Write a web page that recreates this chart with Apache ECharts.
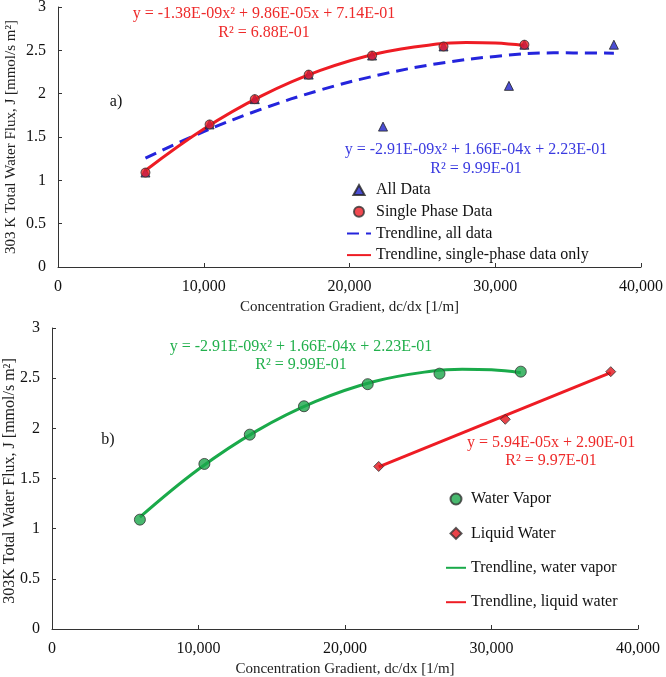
<!DOCTYPE html>
<html>
<head>
<meta charset="utf-8">
<script src="https://cdn.jsdelivr.net/npm/echarts@6/dist/echarts.min.js"></script>
<style>
  html, body { margin: 0; padding: 0; background: #fff; }
  #chart { width: 666px; height: 677px; }
</style>
</head>
<body>
<div id="chart"></div>
<script>
const vaporX = [6000, 10400, 13500, 17200, 21550, 26450, 32000]
const vaporY = [1.09, 1.645, 1.937, 2.22, 2.44, 2.545, 2.565]
const liquidX = [22300, 30940, 38140]
const liquidY = [1.62, 2.09, 2.565]

// trendline points
const trendAllX = [6000, 10000, 14000, 18000, 22000, 26000, 30000, 34000, 38140]
const trendAllY = [1.256, 1.562, 1.824, 2.042, 2.215, 2.345, 2.43, 2.471, 2.467]
const trendVaporX = [6000, 10000, 14000, 18000, 22000, 26000, 28000, 30000, 32000]
const trendVaporY = [1.114, 1.592, 1.977, 2.268, 2.467, 2.572, 2.59, 2.584, 2.555]
const trendLiquidX = [22300, 38140]
const trendLiquidY = [1.615, 2.555]

const xTicks = [0, 10000, 20000, 30000, 40000]
const yTicks = [0, 0.5, 1, 1.5, 2, 2.5, 3]

const pairs = (xs, ys) => xs.map((x, i) => [x, ys[i]])

const FONT = '"Liberation Serif", "DejaVu Serif", serif'
const TRI = 'path://M5,0 L10,9 L0,9 Z'
const DIA = 'path://M5,0 L10,5 L5,10 L0,5 Z'

const makeX = (gridIndex, gap) => ({
  type: 'value',
  gridIndex: gridIndex,
  min: xTicks[0],
  max: xTicks[xTicks.length - 1],
  interval: 10000,
  name: 'Concentration Gradient, dc/dx [1/m]',
  nameLocation: 'middle',
  nameGap: gap,
  nameTextStyle: { fontFamily: FONT, fontSize: 15, color: '#222' },
  axisLine: { show: true, lineStyle: { color: '#333', width: 1 } },
  axisTick: { show: true, inside: true, length: 4, lineStyle: { color: '#333' } },
  axisLabel: {
    fontFamily: FONT, fontSize: 16, color: '#111', margin: 12,
    formatter: v => v.toLocaleString('en-US')
  },
  splitLine: { show: false }
})

const makeY = (gridIndex) => ({
  type: 'value',
  gridIndex: gridIndex,
  min: yTicks[0],
  max: yTicks[yTicks.length - 1],
  interval: 0.5,
  axisLine: { show: true, lineStyle: { color: '#333', width: 1 } },
  axisTick: { show: true, inside: true, length: 4, lineStyle: { color: '#333' } },
  axisLabel: { fontFamily: FONT, fontSize: 16, color: '#111', margin: 12 },
  splitLine: { show: false }
})

const txt = (x, y, text, color, size, rot) => ({
  type: 'text',
  x: x, y: y,
  rotation: rot || 0,
  style: {
    text: text, fill: color, font: (size || 16) + 'px ' + FONT,
    align: 'center', verticalAlign: 'middle'
  }
})

const chart = echarts.init(document.getElementById('chart'))

const option = {
  backgroundColor: '#fff',
  animation: false,
  grid: [
    { left: 58, top: 7, width: 583, height: 260, containLabel: false, outerBoundsMode: 'none' },
    { left: 52, top: 328, width: 586, height: 301, containLabel: false, outerBoundsMode: 'none' }
  ],
  xAxis: [makeX(0, 33), makeX(1, 33)],
  yAxis: [makeY(0), makeY(1)],
  legend: [
    {
      orient: 'vertical', left: 341, top: 177,
      itemWidth: 24, itemHeight: 10, itemGap: 5.7,
      textStyle: { fontFamily: FONT, fontSize: 16, color: '#111' },
      data: [
        { name: 'All Data', icon: TRI },
        { name: 'Single Phase Data', icon: 'circle' },
        { name: 'Trendline, all data', itemStyle: { opacity: 0 } },
        { name: 'Trendline, single-phase data only', itemStyle: { opacity: 0 } }
      ]
    },
    {
      orient: 'vertical', left: 440, top: 486,
      itemWidth: 20, itemHeight: 11, itemGap: 18.4,
      textStyle: { fontFamily: FONT, fontSize: 16, color: '#111' },
      data: [
        { name: 'Water Vapor', icon: 'circle' },
        { name: 'Liquid Water', icon: DIA },
        { name: 'Trendline, water vapor', itemStyle: { opacity: 0 } },
        { name: 'Trendline, liquid water', itemStyle: { opacity: 0 } }
      ]
    }
  ],
  graphic: [
    txt(11, 137, '303 K Total Water Flux, J [mmol/s m²]', '#222', 15, Math.PI / 2),
    txt(10, 481, '303K Total Water Flux, J [mmol/s m²]', '#222', 16, Math.PI / 2),
    txt(264, 14, 'y = -1.38E-09x² + 9.86E-05x + 7.14E-01', '#ee2a2a'),
    txt(264, 33, 'R² = 6.88E-01', '#ee2a2a'),
    txt(476, 150, 'y = -2.91E-09x² + 1.66E-04x + 2.23E-01', '#3a3ae0'),
    txt(476, 169, 'R² = 9.99E-01', '#3a3ae0'),
    txt(116, 102, 'a)', '#111'),
    txt(301, 347, 'y = -2.91E-09x² + 1.66E-04x + 2.23E-01', '#22b04d'),
    txt(301, 365, 'R² = 9.99E-01', '#22b04d'),
    txt(551, 443, 'y = 5.94E-05x + 2.90E-01', '#ee2a2a'),
    txt(551, 461, 'R² = 9.97E-01', '#ee2a2a'),
    txt(108, 440, 'b)', '#111')
  ],
  series: [
    {
      name: 'All Data', type: 'scatter', xAxisIndex: 0, yAxisIndex: 0,
      symbol: 'triangle', symbolSize: 9, z: 3,
      itemStyle: { color: '#1e22c8', borderColor: '#222', borderWidth: 1 },
      data: pairs(vaporX.concat(liquidX), vaporY.concat(liquidY))
    },
    {
      name: 'Single Phase Data', type: 'scatter', xAxisIndex: 0, yAxisIndex: 0,
      symbol: 'circle', symbolSize: 9, z: 4,
      itemStyle: { color: '#ee1c24', borderColor: '#333', borderWidth: 1 },
      data: pairs(vaporX, vaporY)
    },
    {
      name: 'Trendline, all data', type: 'line', xAxisIndex: 0, yAxisIndex: 0,
      showSymbol: false, symbol: 'none', smooth: 0.4, z: 2,
      lineStyle: { color: '#2424dc', width: 3, type: [12, 7] },
      itemStyle: { color: '#2424dc' },
      data: pairs(trendAllX, trendAllY)
    },
    {
      name: 'Trendline, single-phase data only', type: 'line', xAxisIndex: 0, yAxisIndex: 0,
      showSymbol: false, symbol: 'none', smooth: 0.4, z: 2,
      lineStyle: { color: '#ee1c24', width: 3 },
      itemStyle: { color: '#ee1c24' },
      data: pairs(trendVaporX, trendVaporY)
    },
    {
      name: 'Water Vapor', type: 'scatter', xAxisIndex: 1, yAxisIndex: 1,
      symbol: 'circle', symbolSize: 11, z: 4,
      itemStyle: { color: '#1aa64a', borderColor: '#333', borderWidth: 1 },
      data: pairs(vaporX, vaporY)
    },
    {
      name: 'Liquid Water', type: 'scatter', xAxisIndex: 1, yAxisIndex: 1,
      symbol: 'diamond', symbolSize: 10, z: 4,
      itemStyle: { color: '#e3141c', borderColor: '#333', borderWidth: 1 },
      data: pairs(liquidX, liquidY)
    },
    {
      name: 'Trendline, water vapor', type: 'line', xAxisIndex: 1, yAxisIndex: 1,
      showSymbol: false, symbol: 'none', smooth: 0.4, z: 2,
      lineStyle: { color: '#1aaa4a', width: 3 },
      itemStyle: { color: '#1aaa4a' },
      data: pairs(trendVaporX, trendVaporY)
    },
    {
      name: 'Trendline, liquid water', type: 'line', xAxisIndex: 1, yAxisIndex: 1,
      showSymbol: false, symbol: 'none', z: 2,
      lineStyle: { color: '#ee1c24', width: 3 },
      itemStyle: { color: '#ee1c24' },
      data: pairs(trendLiquidX, trendLiquidY)
    }
  ]
}

chart.setOption(option)
</script>
</body>
</html>
